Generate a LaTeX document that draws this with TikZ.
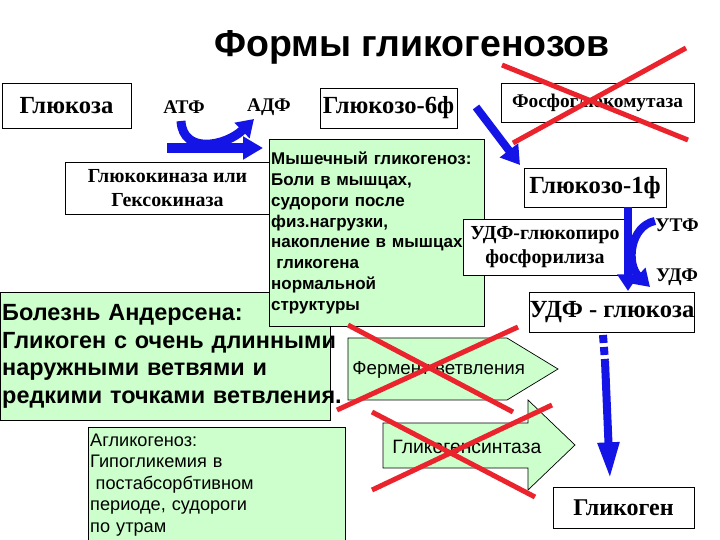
\documentclass[tikz,border=0pt]{standalone}
\usepackage{fontspec}
\setmainfont{Liberation Serif}
\setsansfont{Liberation Sans}
\usetikzlibrary{arrows.meta}
\definecolor{flowblue}{RGB}{20,20,230}
\definecolor{crossred}{RGB}{235,35,45}
\definecolor{paleg}{RGB}{204,255,204}
\begin{document}
\begin{tikzpicture}[x=0.03cm, y=-0.03cm, line width=0.8pt,
    box/.style={draw, fill=white, inner sep=0pt, font=\bfseries\fontsize{21}{25}\selectfont},
    dims/.style 2 args={minimum width=#1*0.03cm, minimum height=#2*0.03cm},
    note/.style={draw, fill=paleg, anchor=north west, align=left, inner sep=1.5pt},
    plain/.style={inner sep=0pt, font=\bfseries\fontsize{16.5}{20}\selectfont},
    enzyme/.style={draw, fill=paleg, line width=0.6pt},
    enzlabel/.style={anchor=west, inner sep=0pt, font=\sffamily\fontsize{16}{19}\selectfont},
    flow/.style={draw=flowblue, line width=0.24cm, -{Triangle[width=0.62cm, length=0.5cm]}},
    cross/.style={draw=crossred, line width=0.15cm}]
    \useasboundingbox (0,0) rectangle (720,540);

    \node[font=\sffamily\bfseries\fontsize{32}{38}\selectfont] (title) at (412,47) {Формы гликогенозов};
    \node[box, dims={129}{45}] (glu) at (66.5,105.5) {Глюкоза};
    \node[plain] (atf) at (184,107) {АТФ};
    \node[plain] (adf) at (269,107) {АДФ};
    \node[box, dims={205}{52}, align=center, font=\bfseries\fontsize{17}{21}\selectfont] (kinase) at (167.5,188) {Глюкокиназа или\\Гексокиназа};
    \node[box, dims={137}{40}] (g6f) at (388.5,108) {Глюкозо-6ф};
    \node[box, dims={193}{39}, font=\bfseries\fontsize{16.5}{20}\selectfont] (pgm) at (597.5,102.5) {Фосфоглюкомутаза};
    \node[note, text width=9.8cm, minimum height=3.84cm, font=\sffamily\bfseries\fontsize{20}{23.6}\selectfont] (andersen) at (0,292)
        {Болезнь Андерсена:\\\mbox{Гликоген с очень длинными}\\наружными ветвями и\\\mbox{редкими точками ветвления.}};
    \node[note, text width=6.34cm, minimum height=5.61cm, font=\sffamily\bfseries\fontsize{14.5}{17.7}\selectfont] (muscle) at (269,139)
        {Мышечный гликогеноз:\\Боли в мышцах,\\судороги после\\физ.нагрузки,\\\mbox{накопление в мышцах}\\\hspace*{0.3em}гликогена\\нормальной\\структуры};
    \node[box, dims={142}{39}] (g1f) at (595,187.5) {Глюкозо-1ф};
    \node[box, dims={164}{56}, align=center, font=\bfseries\fontsize{17}{21}\selectfont] (udfglp) at (545,247) {УДФ-глюкопиро\\фосфорилиза};
    \node[plain] (utf) at (677,225) {УТФ};
    \node[plain] (udf) at (677,277) {УДФ};
    \node[box, dims={164}{40}] (udfg) at (612,312) {УДФ - глюкоза};
    \node[box, dims={141}{41}, font=\bfseries\fontsize{20.5}{24}\selectfont] (glyc) at (623.5,507.5) {Гликоген};
    \node[note, text width=7.6cm, minimum height=3.45cm, font=\sffamily\fontsize{15.5}{18.4}\selectfont] (aglyc) at (88,427)
        {Агликогеноз:\\Гипогликемия в\\\hspace*{0.3em}постабсорбтивном\\периоде, судороги\\по утрам};

    \draw[enzyme] (348,338) -- (507,338) -- (558,369) -- (507,400) -- (348,400) -- cycle;
    \node[enzlabel] (branch) at (352,370) {Фермент ветвления};
    \draw[enzyme] (383,423) -- (528,423) -- (528,400) -- (575,445) -- (528,490) -- (528,468) -- (383,468) -- cycle;
    \node[enzlabel, font=\sffamily\fontsize{16.5}{19}\selectfont] (synth) at (392,447) {Гликогенсинтаза};

    \coordinate (a1) at (181,121);
    \coordinate (a2) at (254,119);
    \coordinate (r1) at (167,148);
    \coordinate (r2) at (263,148);
    \coordinate (m1) at (476,107);
    \coordinate (m2) at (520,165);
    \coordinate (v1) at (628,207);
    \coordinate (v2) at (628,291);
    \coordinate (u1) at (655,221);
    \coordinate (u2) at (650,287);
    \coordinate (d1) at (603,335);
    \coordinate (d2) at (605,361);
    \coordinate (d3) at (610,479);

    \draw[flow, line width=0.27cm] (a1) .. controls (183,155) and (226,146) .. (a2);
    \draw[flow, line width=0.3cm, -{Triangle[width=0.66cm, length=0.6cm]}] (r1) -- (r2);
    \draw[flow, -{Triangle[width=0.66cm, length=0.55cm]}] (m1) -- (m2);
    \draw[flow] (v1) -- (v2);
    \draw[flow] (u1) .. controls (630,226) and (626,264) .. (u2);
    \draw[draw=flowblue, line width=0.24cm, dash pattern=on 0.24cm off 0.12cm] (d1) -- (d2);
    \draw[flow, -{Triangle[width=0.6cm, length=1.1cm]}] (d2) -- (d3);

    \draw[cross] (502,65) -- (688,140);
    \draw[cross] (513,143) -- (686,48);
    \draw[cross] (348,325) -- (513,412);
    \draw[cross] (337,410) -- (518,327);
    \draw[cross] (372,412) -- (535,497);
    \draw[cross] (372,490) -- (552,405);
\end{tikzpicture}
\end{document}
